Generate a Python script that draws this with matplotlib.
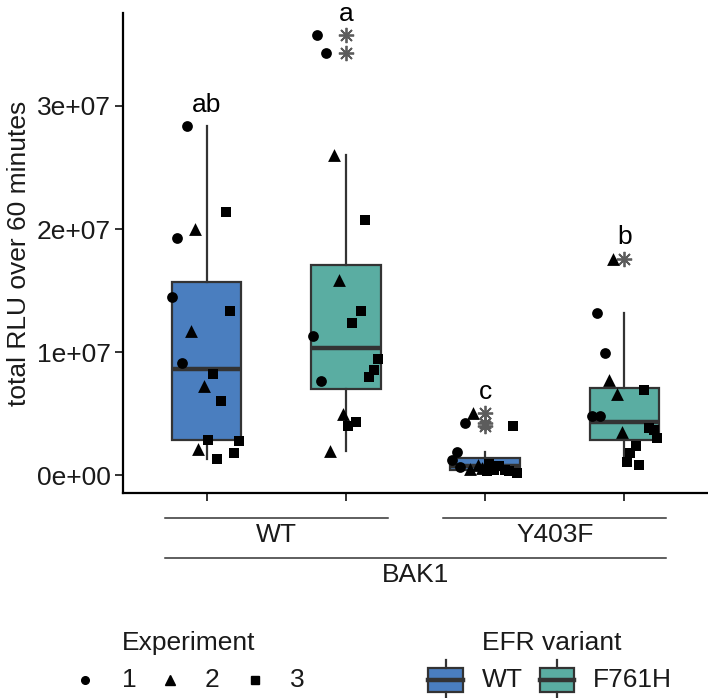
import matplotlib
matplotlib.use("Agg")
import matplotlib.pyplot as plt
import matplotlib.transforms as mtransforms
from matplotlib.lines import Line2D
from matplotlib.patches import Rectangle

plt.rcParams["font.family"] = ["Liberation Sans", "DejaVu Sans"]

# --- data (total RLU, units of 1e7) ---
bak1 = ["WT", "WT", "Y403F", "Y403F"]
efr = ["WT", "F761H", "WT", "F761H"]
letters = ["ab", "a", "c", "b"]
experiment = [1, 1, 1, 1, 2, 2, 2, 2, 3, 3, 3, 3, 3, 3, 3, 3]

rlu_wt_wt = [2.84, 1.93, 1.45, 0.91, 2.00, 1.17, 0.72, 0.21,
             2.14, 1.33, 0.82, 0.60, 0.285, 0.28, 0.18, 0.13]
rlu_wt_f761h = [3.58, 3.43, 1.13, 0.764, 2.60, 1.585, 0.50, 0.195,
                2.07, 1.33, 1.235, 0.94, 0.853, 0.80, 0.43, 0.40]
rlu_y403f_wt = [0.42, 0.19, 0.12, 0.065, 0.505, 0.08, 0.06, 0.05,
                0.40, 0.09, 0.075, 0.042, 0.04, 0.035, 0.03, 0.02]
rlu_y403f_f761h = [1.32, 0.99, 0.48, 0.48, 1.76, 0.77, 0.66, 0.35,
                   0.69, 0.38, 0.37, 0.30, 0.235, 0.18, 0.105, 0.08]

# horizontal jitter of each point (category units)
jit_wt_wt = [-0.144, -0.209, -0.245, -0.18, -0.086, -0.115, -0.022, -0.058,
             0.137, 0.165, 0.043, 0.10, 0.007, 0.23, 0.194, 0.072]
jit_wt_f761h = [-0.209, -0.144, -0.237, -0.18, -0.086, -0.05, -0.022, -0.115,
                0.137, 0.108, 0.043, 0.23, 0.20, 0.165, 0.072, 0.014]
jit_y403f_wt = [-0.144, -0.20, -0.237, -0.18, -0.086, -0.05, -0.02, -0.11,
                0.20, 0.03, 0.10, 0.065, 0.14, 0.17, 0.01, 0.23]
jit_y403f_f761h = [-0.20, -0.137, -0.23, -0.173, -0.08, -0.108, -0.05, -0.014,
                   0.144, 0.173, 0.21, 0.237, 0.08, 0.043, 0.022, 0.108]

groups = [rlu_wt_wt, rlu_wt_f761h, rlu_y403f_wt, rlu_y403f_f761h]
jitters = [jit_wt_wt, jit_wt_f761h, jit_y403f_wt, jit_y403f_f761h]

colors = {"WT": "#4a7ebf", "F761H": "#5aada2"}
shapes = {1: "o", 2: "^", 3: "s"}
sizes = {1: 60, 2: 85, 3: 52}
edge = "#333333"
FS = 19

W, H = 708, 698


def fx(px):
    return px / W


def fy(py):
    return 1 - py / H


fig = plt.figure(figsize=(7.08, 6.98), dpi=100)
ax = fig.add_axes([fx(123), fy(493), 1 - fx(123), (493 - 13) / H])

positions = [1, 2, 3, 4]
data = [[v * 1e7 for v in g] for g in groups]
bp = ax.boxplot(data, positions=positions, widths=0.5, patch_artist=True,
                showcaps=False, whis=1.5,
                flierprops=dict(marker=(8, 2, 0), markersize=11,
                                markeredgecolor="#5c5c5c", markeredgewidth=1.3,
                                linestyle="none"),
                medianprops=dict(color=edge, linewidth=3.2),
                whiskerprops=dict(color=edge, linewidth=1.6),
                boxprops=dict(edgecolor=edge, linewidth=1.6))
for patch, e in zip(bp["boxes"], efr):
    patch.set_facecolor(colors[e])

for pos, vals, jit in zip(positions, data, jitters):
    for ex in (1, 2, 3):
        xs = [pos + j for j, e in zip(jit, experiment) if e == ex]
        ys = [v for v, e in zip(vals, experiment) if e == ex]
        ax.scatter(xs, ys, marker=shapes[ex], s=sizes[ex], color="black",
                   linewidths=0, zorder=4)

for pos, vals, lab in zip(positions, data, letters):
    ax.text(pos, max(vals) + 1.15e6, lab, ha="center", va="baseline",
            fontsize=FS, color="black")

ax.set_xlim(0.4, 4.6)
ax.set_ylim(-1.46e6, 3.756e7)
ax.set_xticks(positions)
ax.set_xticklabels([])
ax.set_yticks([0, 1e7, 2e7, 3e7])
ax.set_yticklabels(["0e+00", "1e+07", "2e+07", "3e+07"])
ax.tick_params(axis="both", length=5.5, width=1.4, color=edge,
               labelsize=FS, labelcolor="#1a1a1a", pad=3)
for s in ("top", "right"):
    ax.spines[s].set_visible(False)
for s in ("left", "bottom"):
    ax.spines[s].set_linewidth(1.6)
    ax.spines[s].set_color("black")
ax.set_ylabel("total RLU over 60 minutes", fontsize=FS, color="#1a1a1a")
ax.yaxis.set_label_coords((31 - 123) / (W - 123), 0.5)

# nested x-axis group labels
blend = mtransforms.blended_transform_factory(ax.transData, fig.transFigure)
for name, lo, hi in (("WT", 0.7, 2.3), ("Y403F", 2.7, 4.3)):
    fig.add_artist(Line2D([lo, hi], [fy(518)] * 2, transform=blend,
                          color=edge, lw=1.1))
    fig.text((lo + hi) / 2, fy(535), name, transform=blend, ha="center",
             va="center", fontsize=FS, color="#1a1a1a")
fig.add_artist(Line2D([0.7, 4.3], [fy(558)] * 2, transform=blend,
                      color=edge, lw=1.1))
fig.text(2.5, fy(575), "BAK1", transform=blend, ha="center", va="center",
         fontsize=FS, color="#1a1a1a")

# legend: Experiment
fig.text(fx(122), fy(643), "Experiment", ha="left", va="center",
         fontsize=FS, color="#1a1a1a")
for ex, mx, tx in ((1, 85, 129), (2, 170, 212), (3, 255, 297)):
    fig.add_artist(Line2D([fx(mx)], [fy(680)], marker=shapes[ex],
                          markersize=5.5 if ex != 2 else 6.5, color="black",
                          linestyle="none", transform=fig.transFigure))
    fig.text(fx(tx), fy(680), str(ex), ha="center", va="center",
             fontsize=FS, color="#1a1a1a")

# legend: EFR variant
fig.text(fx(482), fy(643), "EFR variant", ha="left", va="center",
         fontsize=FS, color="#1a1a1a")
for e, x0, x1, tx in (("WT", 428, 463, 482), ("F761H", 540, 574, 593)):
    cx = (x0 + x1) / 2
    fig.add_artist(Line2D([fx(cx)] * 2, [fy(660), fy(668)], color=edge,
                          lw=1.6, transform=fig.transFigure))
    fig.add_artist(Line2D([fx(cx)] * 2, [fy(692), fy(700)], color=edge,
                          lw=1.6, transform=fig.transFigure))
    fig.add_artist(Rectangle((fx(x0), fy(692)), fx(x1 - x0), (692 - 668) / H,
                             facecolor=colors[e], edgecolor=edge, lw=1.6,
                             transform=fig.transFigure))
    fig.add_artist(Line2D([fx(x0), fx(x1)], [fy(680)] * 2, color=edge,
                          lw=3.2, transform=fig.transFigure))
    fig.text(fx(tx), fy(680), e, ha="left", va="center", fontsize=FS,
             color="#1a1a1a")

fig.savefig("out.png", dpi=100)
